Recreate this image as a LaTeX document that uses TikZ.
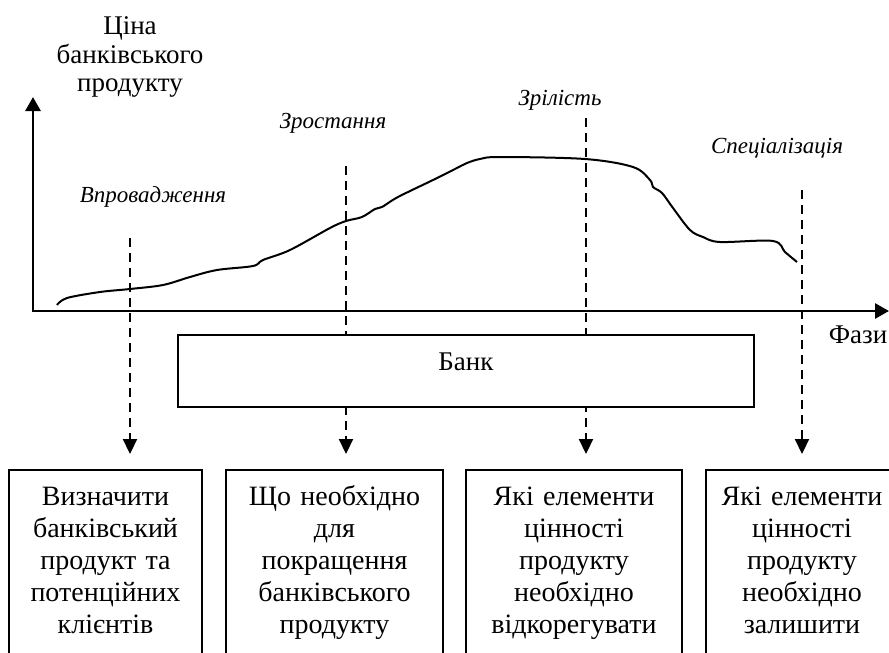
\documentclass[tikz,border=0pt]{standalone}
\usepackage{fontspec}
\setmainfont{Liberation Serif}
\usetikzlibrary{arrows.meta}

\tikzset{
  phase/.style={font=\fontsize{11.5}{14}\selectfont\itshape, anchor=base, inner sep=0pt},
  task/.style={draw, line width=0.8pt, anchor=north, inner sep=0pt, align=center,
    font=\fontsize{14}{16}\selectfont},
  phaseline/.style={line width=1.1pt, dash pattern=on 4.5pt off 3pt,
    -{Triangle[length=7.5pt,width=7pt]}, shorten >=7.5pt},
}

\begin{document}
\begin{tikzpicture}[x=0.5pt, y=-0.5pt, thick]
\useasboundingbox (0,0) rectangle (889,653);
\clip (0,0) rectangle (889,653);

%%%%% Axis %%%%%
\coordinate (O) at (33,311);
\coordinate (ytip) at (33,97);
\coordinate (xtip) at (889,311);
\draw[line width=1.4pt, line join=miter,
  {Triangle[length=7pt,width=7.5pt]}-{Triangle[length=7pt,width=7.5pt]}]
  (ytip) -- (O) -- (xtip);
\node[anchor=north, inner sep=0pt, align=center, font=\fontsize{13.5}{14.25}\selectfont]
  (price) at (130,16) {Ціна\\банківського\\продукту};
\node[anchor=base east, inner sep=0pt, font=\fontsize{13.5}{16}\selectfont]
  (phases) at (888,343) {Фази};

%%%%% Life cycle curve %%%%%
\draw[line width=1pt] plot[smooth, tension=0.55] coordinates {
  (57,305) (67,298) (100,292) (130,289) (163,285) (190,277) (217,270)
  (253,266) (263,260) (290,250) (330,228) (346,221) (362,217) (375,209)
  (382,207) (398,197) (433,180) (455,169) (467,163) (480,159) (500,157)
  (585,159) (633,167) (650,180) (653,187) (662,193) (673,208) (690,230)
  (703,237) (720,242) (773,241) (785,252) (797,262)};

%%%%% Phases %%%%%
\node[phase] (intro) at (153,202) {Впровадження};
\node[phase] (growth) at (333,128) {Зростання};
\node[phase] (mature) at (560,105) {Зрілість};
\node[phase] (special) at (777,153) {Спеціалізація};

\coordinate (t1) at (130,238);
\coordinate (t2) at (346,166);
\coordinate (t3) at (586,118);
\coordinate (t4) at (802,190);

%%%%% Questions %%%%%
\node[task, text width=96.5pt] (box1) at (105.5,469)
  {\rule{0pt}{18pt}Визначити\\банківський\\продукт та\\потенційних\\клієнтів\rule[-20pt]{0pt}{20pt}};
\node[task, text width=108.5pt] (box2) at (334.5,469)
  {\rule{0pt}{18pt}Що необхідно\\для\\покращення\\банківського\\продукту\rule[-20pt]{0pt}{20pt}};
\node[task, text width=108pt] (box3) at (574,469)
  {\rule{0pt}{18pt}Які елементи\\цінності\\продукту\\необхідно\\відкорегувати\rule[-20pt]{0pt}{20pt}};
\node[task, text width=96pt] (box4) at (802,469)
  {\rule{0pt}{18pt}Які елементи\\цінності\\продукту\\необхідно\\залишити\rule[-20pt]{0pt}{20pt}};

\foreach \i in {1,...,4}{
\draw[phaseline] (t\i) -- (t\i |- box\i.north);
}

%%%%% Bank %%%%%
\node[draw, fill=white, line width=0.8pt, minimum width=288pt, minimum height=36pt,
  inner sep=0pt, text depth=9pt, font=\fontsize{13.5}{16}\selectfont]
  (bank) at (466,371) {Банк};
\end{tikzpicture}
\end{document}
